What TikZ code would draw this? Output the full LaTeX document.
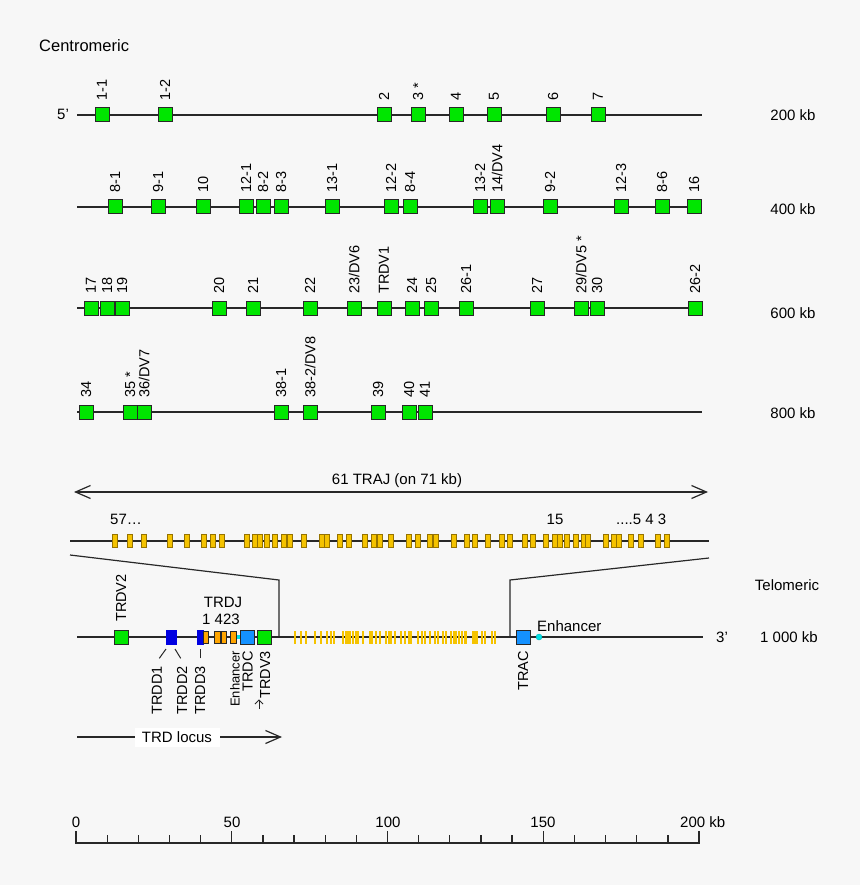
\documentclass[tikz,border=0pt]{standalone}
\usepackage{fontspec}
\setmainfont{Liberation Sans}
\usetikzlibrary{arrows.meta}
\definecolor{bg}{HTML}{F7F7F7}
\definecolor{vgreen}{RGB}{0,230,0}
\definecolor{jyel}{RGB}{245,195,0}
\definecolor{jedge}{RGB}{150,115,0}
\definecolor{dblue}{RGB}{0,0,225}
\definecolor{cblue}{RGB}{20,145,255}
\definecolor{jorange}{RGB}{255,165,0}
\definecolor{enhc}{RGB}{0,225,230}
\definecolor{ink}{RGB}{40,40,40}
\begin{document}
\begin{tikzpicture}[x=1pt,y=-1pt,
  chrom/.style={draw=ink,line width=1.3pt},
  vbox/.style={draw=ink,fill=vgreen,line width=1pt,minimum size=14pt,inner sep=0pt},
  cbox/.style={draw=ink,fill=cblue,line width=1pt,minimum size=14pt,inner sep=0pt},
  dbox/.style={draw=dblue,fill=dblue,line width=0.5pt,minimum height=14pt,inner sep=0pt},
  obox/.style={draw=ink,fill=jorange,line width=0.8pt,minimum height=12pt,minimum width=5.5pt,inner sep=0pt},
  vlab/.style={rotate=90,anchor=west,inner sep=0pt,font=\fontsize{14.5}{14.5}\selectfont,text depth=0pt},
  blab/.style={rotate=90,anchor=east,inner sep=0pt,font=\fontsize{14.5}{14.5}\selectfont,text depth=0pt},
  txt/.style={inner sep=0pt,font=\fontsize{15}{15}\selectfont},
  jbar/.style={draw=jedge,fill=jyel,line width=0.6pt,minimum width=5pt,minimum height=13pt,inner sep=0pt},
  barb/.style={-{Straight Barb[length=15pt,width=13pt]}},
  pointer/.style={draw=ink,line width=1pt}
]
\useasboundingbox (0,0) rectangle (860,885);
\fill[bg] (0,0) rectangle (860,885);

\node[inner sep=0pt,anchor=west,font=\fontsize{16.5}{16.5}\selectfont] (centro) at (39,46) {Centromeric};

% Row 1
\node[txt] (fivep) at (63,114) {5'};
\coordinate (r1s) at (77,115); \coordinate (r1e) at (702,115);
\draw[chrom] (r1s) -- (r1e);
\foreach \x/\t [count=\i] in {102/1-1,165/1-2,384/2,418/{3 *},456/4,494/5,553/6,598/7}{
  \node[vbox] (ra\i) at (\x,115) {};
  \node[vlab] (la\i) at (\x,101) {\t};
}
\node[txt] (kb200) at (793,115) {200 kb};

% Row 2
\coordinate (r2s) at (77,207); \coordinate (r2e) at (702,207);
\draw[chrom] (r2s) -- (r2e);
\foreach \x/\t [count=\i] in {115/8-1,158/9-1,203/10,246/12-1,263/8-2,281/8-3,332/13-1,391/12-2,410/8-4,480/13-2,497/{14/DV4},550/9-2,621/12-3,662/8-6,694/16}{
  \node[vbox] (rb\i) at (\x,207) {};
  \node[vlab] (lb\i) at (\x,193) {\t};
}
\node[txt] (kb400) at (793,209) {400 kb};

% Row 3
\coordinate (r3s) at (77,308); \coordinate (r3e) at (702,308);
\draw[chrom] (r3s) -- (r3e);
\foreach \x/\t [count=\i] in {91/17,107/18,122/19,219/20,253/21,310/22,354/{23/DV6},384/TRDV1,412/24,431/25,466/26-1,537/27,581/{29/DV5 *},597/30,695/26-2}{
  \node[vbox] (rc\i) at (\x,308) {};
  \node[vlab] (lc\i) at (\x,294) {\t};
}
\node[txt] (kb600) at (793,313) {600 kb};

% Row 4
\coordinate (r4s) at (77,412); \coordinate (r4e) at (702,412);
\draw[chrom] (r4s) -- (r4e);
\foreach \x/\t [count=\i] in {86/34,130/{35 *},144/{36/DV7},281/38-1,310/{38-2/DV8},378/39,409/40,425/41}{
  \node[vbox] (rd\i) at (\x,412) {};
  \node[vlab] (ld\i) at (\x,398) {\t};
}
\node[txt] (kb800) at (793,413) {800 kb};

% TRAJ span arrow
\coordinate (tas) at (74,492); \coordinate (tae) at (708,492);
\draw[ink,line width=1.2pt,{Straight Barb[length=15pt,width=13pt]}-{Straight Barb[length=15pt,width=13pt]}] (tas) -- (tae);
\node[txt] (trajtxt) at (397,481) {61 TRAJ (on 71 kb)};

% TRAJ line
\coordinate (tls) at (70,541); \coordinate (tle) at (709,541);
\draw[chrom] (tls) -- (tle);
\foreach \x [count=\i] in {114.3,129.7,143.3,169.3,186.3,204,212.7,221.3,247,254.3,260,266.7,275,283.3,289.3,303.3,322,326.7,339.3,348.7,365,373.3,379.3,391,408.7,417.7,429.7,436,453.5,466.7,474.3,487.7,501.3,510,525,532.3,545.3,554.3,559.3,566.7,575.3,583.3,588,605.7,613.3,618.7,630.7,640.3,658,666.7}{
  \node[jbar] (tj\i) at (\x,541) {};
}
\node[txt,anchor=west] (l57) at (110,519) {57…};
\node[txt] (l15) at (555,519) {15};
\node[txt,anchor=west] (l543) at (616,519) {....5 4 3};

% zoom lines
\coordinate (zla) at (70,555); \coordinate (zlb) at (279,580); \coordinate (zlc) at (279,637);
\coordinate (zra) at (709,558); \coordinate (zrb) at (510,580); \coordinate (zrc) at (510,637);
\draw[ink,line width=1.2pt] (zla) -- (zlb) -- (zlc);
\draw[ink,line width=1.2pt] (zra) -- (zrb) -- (zrc);

% Locus line
\coordinate (ls) at (77,637); \coordinate (le) at (703,637);
\draw[chrom] (ls) -- (le);
\foreach \x [count=\i] in {114.3,129.7,143.3,169.3,186.3,204,212.7,221.3,247,254.3,260,266.7,275,283.3,289.3,303.3,322,326.7,339.3,348.7,365,373.3,379.3,391,408.7,417.7,429.7,436,453.5,466.7,474.3,487.7,501.3,510,525,532.3,545.3,554.3,559.3,566.7,575.3,583.3,588,605.7,613.3,618.7,630.7,640.3,658,666.7}{
  \pgfmathsetmacro\lx{279+(\x-70)*0.3615}
  \fill[jyel] (\lx-1,631) rectangle (\lx+1,644);
}

\node[vbox] (trdv2) at (121,637) {};
\node[vlab] (ltrdv2) at (121,622) {TRDV2};
\node[dbox,minimum width=10pt] (trdd12) at (171,637) {};
\node[dbox,minimum width=6pt] (trdd3) at (200,637) {};
\node[obox] (tj1) at (206,637.5) {};
\node[obox] (tj4) at (217.5,637.5) {};
\node[obox] (tj2) at (224,637.5) {};
\node[obox] (tj3) at (233.5,637.5) {};
\node[fill=enhc,minimum size=3.5pt,inner sep=0pt] (enhd) at (238.5,637) {};
\node[cbox] (trdc) at (247.5,637) {};
\node[vbox] (trdv3) at (264.5,637) {};
\node[txt] (ltrdj) at (223,602) {TRDJ};
\node[txt,anchor=west] (ljnum) at (202,619) {1 423};

\coordinate (p1a) at (159.3,658.3); \coordinate (p1b) at (166,649);
\coordinate (p2a) at (180.7,658.3); \coordinate (p2b) at (175,649);
\coordinate (p3a) at (200,658.3); \coordinate (p3b) at (200,649);
\draw[pointer] (p1a) -- (p1b);
\draw[pointer] (p2a) -- (p2b);
\draw[pointer] (p3a) -- (p3b);
\node[blab] (ltrdd1) at (157,666) {TRDD1};
\node[blab] (ltrdd2) at (182,666) {TRDD2};
\node[blab] (ltrdd3) at (200,666) {TRDD3};
\node[blab,font=\fontsize{13}{13}\selectfont] (lenhd) at (235,651) {Enhancer};
\node[blab] (ltrdc) at (247.5,651) {TRDC};
\node[blab] (ltrdv3) at (265,651) {TRDV3};
\coordinate (ua) at (259,709); \coordinate (ub) at (259,700);
\coordinate (ul) at (255,704); \coordinate (ur) at (263,704);
\draw[ink,line width=1pt] (ua) -- (ub);
\draw[ink,line width=1pt] (ul) -- (ub) -- (ur);

\node[cbox] (trac) at (523,637) {};
\node[blab] (ltrac) at (523,651) {TRAC};
\node[circle,fill=enhc,draw=enhc!80!black,line width=0.4pt,minimum size=6pt,inner sep=0pt] (enha) at (539,637) {};
\node[txt,anchor=west] (lenha) at (537,626) {Enhancer};

\node[txt] (threep) at (722,637) {3'};
\node[txt] (kb1000) at (789,637) {1 000 kb};
\node[txt] (telo) at (787,585) {Telomeric};

% TRD locus arrow
\coordinate (tds) at (77,737); \coordinate (tde) at (282,737);
\draw[ink,line width=1.2pt,barb] (tds) -- (tde);
\node[fill=white,inner sep=0pt,minimum width=85pt,minimum height=19pt,font=\fontsize{15}{15}\selectfont] (trdlocus) at (177,737) {TRD locus};

% Scale
\coordinate (ss) at (76,843); \coordinate (se) at (699,843);
\draw[ink,line width=1.3pt] (ss) -- (se);
\foreach \i in {0,...,20}{
  \pgfmathsetmacro\sx{76+\i*31.15}
  \pgfmathtruncatemacro\m{mod(\i,5)}
  \ifnum\m=0
    \draw[ink,line width=1.3pt] (\sx,843.6) -- (\sx,831);
  \else
    \draw[ink,line width=1.3pt] (\sx,843.6) -- (\sx,835);
  \fi
}
\node[txt] (s0) at (76,822) {0};
\node[txt] (s50) at (232,822) {50};
\node[txt] (s100) at (388,822) {100};
\node[txt] (s150) at (543,822) {150};
\node[txt,anchor=west] (s200) at (680,822) {200 kb};
\end{tikzpicture}
\end{document}
